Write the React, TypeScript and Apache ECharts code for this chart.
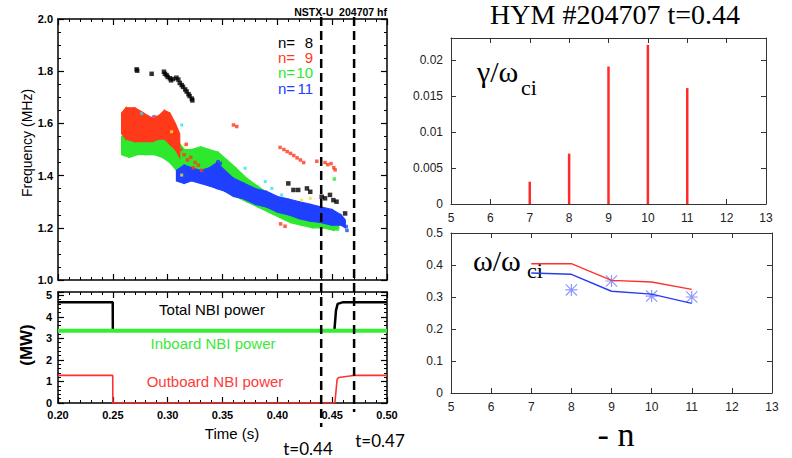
import React, { useEffect, useRef } from 'react';
import * as echarts from 'echarts';

// ---------- Spectrogram (top-left): bands [time (s), fLow (MHz), fHigh (MHz)] ----------
const n10Band: number[][] = [
  [0.258, 1.48, 1.55], [0.265, 1.47, 1.55], [0.272, 1.48, 1.58], [0.28, 1.48, 1.61],
  [0.288, 1.48, 1.63], [0.295, 1.47, 1.62], [0.302, 1.45, 1.58], [0.308, 1.42, 1.54],
  [0.315, 1.4, 1.5], [0.322, 1.4, 1.5], [0.33, 1.4, 1.51], [0.338, 1.39, 1.5],
  [0.346, 1.37, 1.49], [0.354, 1.34, 1.46], [0.362, 1.32, 1.43], [0.372, 1.3, 1.39],
  [0.382, 1.28, 1.36], [0.392, 1.26, 1.33], [0.402, 1.24, 1.31], [0.412, 1.22, 1.29],
  [0.422, 1.21, 1.28], [0.432, 1.2, 1.27], [0.442, 1.2, 1.26], [0.452, 1.19, 1.25],
  [0.456, 1.2, 1.23],
];
const n11Band: number[][] = [
  [0.308, 1.38, 1.42], [0.315, 1.37, 1.44], [0.322, 1.38, 1.43], [0.33, 1.37, 1.42],
  [0.338, 1.36, 1.43], [0.345, 1.35, 1.45], [0.352, 1.34, 1.42], [0.36, 1.32, 1.39],
  [0.37, 1.31, 1.37], [0.38, 1.29, 1.35], [0.39, 1.28, 1.34], [0.4, 1.26, 1.32],
  [0.41, 1.25, 1.31], [0.42, 1.235, 1.3], [0.43, 1.225, 1.29], [0.44, 1.22, 1.28],
  [0.45, 1.21, 1.27], [0.458, 1.21, 1.25], [0.462, 1.2, 1.23],
];
const n9Band: number[][] = [
  [0.258, 1.56, 1.64], [0.262, 1.54, 1.66], [0.27, 1.53, 1.66], [0.278, 1.53, 1.64],
  [0.286, 1.53, 1.62], [0.292, 1.54, 1.63], [0.297, 1.54, 1.65], [0.302, 1.52, 1.64],
  [0.307, 1.5, 1.6], [0.311, 1.47, 1.56],
];
const n8Points: number[][] = [
  [0.2717, 1.807], [0.2722, 1.802], [0.2854, 1.79], [0.2966, 1.798], [0.2975, 1.79],
  [0.299, 1.785], [0.3, 1.778], [0.302, 1.773], [0.303, 1.765], [0.305, 1.77],
  [0.308, 1.775], [0.3097, 1.768], [0.311, 1.755], [0.3128, 1.747], [0.314, 1.74],
  [0.316, 1.73], [0.3173, 1.722], [0.319, 1.712], [0.32, 1.705], [0.322, 1.695],
  [0.3225, 1.688], [0.41, 1.37], [0.4147, 1.345], [0.419, 1.345], [0.427, 1.351],
  [0.43, 1.338], [0.4405, 1.319], [0.4435, 1.313], [0.448, 1.326], [0.4511, 1.306],
  [0.454, 1.3], [0.4618, 1.255],
];
const n9Points: number[][] = [
  [0.312, 1.5], [0.315, 1.48], [0.317, 1.52], [0.318, 1.46], [0.321, 1.47], [0.3234, 1.43],
  [0.325, 1.45], [0.328, 1.44], [0.331, 1.42], [0.36, 1.594], [0.363, 1.588],
  [0.4025, 1.508], [0.406, 1.5], [0.409, 1.492], [0.412, 1.485], [0.415, 1.477],
  [0.418, 1.468], [0.421, 1.46], [0.424, 1.45], [0.436, 1.455], [0.4435, 1.45],
  [0.446, 1.442], [0.449, 1.446], [0.4515, 1.43], [0.4527, 1.422], [0.403, 1.215], [0.407, 1.206],
];
const n10Points: number[][] = [[0.452, 1.387], [0.449, 1.2], [0.455, 1.195]];
const n11Points: number[][] = [[0.4635, 1.19], [0.4628, 1.205], [0.346, 1.453], [0.348, 1.447]];
const cyanPoints: number[][] = [[0.2763, 1.638], [0.3128, 1.594], [0.3706, 1.428], [0.389, 1.377], [0.395, 1.351], [0.404, 1.326]];
const yellowPoints: number[][] = [[0.3036, 1.568], [0.3158, 1.517], [0.3128, 1.402], [0.422, 1.306], [0.43, 1.313]];
const magentaPoints: number[][] = [[0.287, 1.626]];

const modeLabels = ['n= ', 'n= ', 'n=', 'n='];
const modeNumbers = ['8', '9', '10', '11'];
const modeColors = ['#000000', '#ff3a1a', '#2ee82e', '#2040ff'];

// ---------- NBI power (bottom-left): [time (s), MW] ----------
const totalPower: number[][] = [
  [0.2, 4.68], [0.2499, 4.68], [0.25, 3.35], [0.452, 3.35], [0.4535, 4.3],
  [0.455, 4.6], [0.46, 4.68], [0.5, 4.68],
];
const inboardPower: number[][] = [[0.2, 3.35], [0.5, 3.35]];
const outboardPower: number[][] = [
  [0.2, 1.28], [0.2499, 1.28], [0.25, 0], [0.4525, 0], [0.4545, 1.1],
  [0.456, 1.18], [0.466, 1.25], [0.47, 1.28], [0.5, 1.28],
];
const markTimes = [0.44, 0.47];
const markLabels = ['t=0.44', 't=0.47'];

// ---------- HYM (right) ----------
const modeN = [7, 8, 9, 10, 11];
const growthRate = [0.0031, 0.007, 0.0191, 0.0221, 0.0161];
const freqRed = [0.404, 0.404, 0.352, 0.347, 0.324];
const freqBlue = [0.375, 0.371, 0.318, 0.309, 0.28];
const starN = [8, 9, 10, 11];
const starFreq = [0.322, 0.35, 0.303, 0.3];

const SANS = 'Liberation Sans';
const SERIF = 'Liberation Serif';

const asterisk =
  'path://M9,0H11V20H9Z M0,9H20V11H0Z M1.4,0L20,18.6L18.6,20L0,1.4Z M18.6,0L20,1.4L1.4,20L0,18.6Z';

function leftAxis(grid: number, pos: string, min: number, max: number, interval: number, minorSplit: number, label: any) {
  return {
    type: 'value', gridIndex: grid, position: pos, min, max, interval,
    axisLine: { show: true, onZero: false, lineStyle: { color: '#000', width: 1.5 } },
    axisTick: { show: true, inside: true, length: 6, lineStyle: { color: '#000', width: 1.2 } },
    minorTick: { show: true, splitNumber: minorSplit, length: 3, lineStyle: { color: '#000', width: 1 } },
    axisLabel: label ? { show: true, color: '#000', fontFamily: SANS, fontWeight: 'bold', fontSize: 11, ...label } : { show: false },
    splitLine: { show: false },
  };
}

function rightAxis(grid: number, pos: string, min: number, max: number, interval: number, label: any) {
  return {
    type: 'value', gridIndex: grid, position: pos, min, max, interval,
    axisLine: { show: true, onZero: false, lineStyle: { color: '#333', width: 1 } },
    axisTick: { show: true, inside: true, length: 5, lineStyle: { color: '#333', width: 1 } },
    axisLabel: label ? { show: true, color: '#222', fontFamily: SANS, fontSize: 12, margin: 8, ...label } : { show: false },
    splitLine: { show: false },
  };
}

function bandSeries(band: number[][], color: string) {
  return {
    type: 'custom', xAxisIndex: 0, yAxisIndex: 0, data: band, encode: { x: 0, y: [1, 2] }, silent: true,
    renderItem: (params: any, api: any) => {
      const i = params.dataIndex;
      if (i >= band.length - 1) return { type: 'group', children: [] };
      const a = band[i];
      const b = band[i + 1];
      const pts = [api.coord([a[0], a[1]]), api.coord([b[0], b[1]]), api.coord([b[0], b[2]]), api.coord([a[0], a[2]])];
      return { type: 'polygon', shape: { points: pts }, style: { fill: color, stroke: color, lineWidth: 1.2 } };
    },
  };
}

function speckSeries(points: number[][], color: string, size = 3.5) {
  return {
    type: 'scatter', xAxisIndex: 0, yAxisIndex: 0, data: points, symbol: 'rect',
    symbolSize: size, itemStyle: { color }, silent: true,
  };
}

const option: any = {
  animation: false,
  backgroundColor: '#fff',
  grid: [
    { left: 58, top: 19, width: 329, height: 261 },
    { left: 58, top: 292, width: 329, height: 111 },
    { left: 451, top: 38, width: 315, height: 166 },
    { left: 451, top: 233, width: 321, height: 160 },
  ],
  xAxis: [
    leftAxis(0, 'bottom', 0.2, 0.5, 0.05, 5, null),
    leftAxis(0, 'top', 0.2, 0.5, 0.05, 5, null),
    leftAxis(1, 'bottom', 0.2, 0.5, 0.05, 5, { margin: 6, formatter: (v: number) => v.toFixed(2) }),
    leftAxis(1, 'top', 0.2, 0.5, 0.05, 5, null),
    rightAxis(2, 'bottom', 5, 13, 1, {}),
    rightAxis(2, 'top', 5, 13, 1, null),
    rightAxis(3, 'bottom', 5, 13, 1, {}),
    rightAxis(3, 'top', 5, 13, 1, null),
  ],
  yAxis: [
    leftAxis(0, 'left', 1, 2, 0.2, 4, { margin: 5, formatter: (v: number) => v.toFixed(1) }),
    leftAxis(0, 'right', 1, 2, 0.2, 4, null),
    leftAxis(1, 'left', 0, 5.15, 1, 5, { margin: 6, showMaxLabel: false }),
    leftAxis(1, 'right', 0, 5.15, 1, 5, null),
    rightAxis(2, 'left', 0, 0.02306, 0.005, { showMaxLabel: false }),
    rightAxis(2, 'right', 0, 0.02306, 0.005, null),
    rightAxis(3, 'left', 0, 0.5, 0.1, {}),
    rightAxis(3, 'right', 0, 0.5, 0.1, null),
  ],
  series: [
    bandSeries(n10Band, modeColors[2]),
    bandSeries(n11Band, modeColors[3]),
    bandSeries(n9Band, modeColors[1]),
    speckSeries(n10Points, modeColors[2]),
    speckSeries(n11Points, modeColors[3]),
    speckSeries(cyanPoints, '#22e8f0', 3),
    speckSeries(yellowPoints, '#f0e020', 3),
    speckSeries(magentaPoints, '#e040e0', 3),
    speckSeries(n9Points, modeColors[1]),
    speckSeries(n8Points, modeColors[0], 4.5),
    {
      type: 'line', xAxisIndex: 2, yAxisIndex: 2, data: totalPower, showSymbol: false,
      lineStyle: { color: '#000', width: 2.5 }, silent: true,
    },
    {
      type: 'line', xAxisIndex: 2, yAxisIndex: 2, data: inboardPower, showSymbol: false,
      lineStyle: { color: '#33ee33', width: 4 }, silent: true,
    },
    {
      type: 'line', xAxisIndex: 2, yAxisIndex: 2, data: outboardPower, showSymbol: false,
      lineStyle: { color: '#ff3030', width: 1.6 }, silent: true,
    },
    {
      type: 'bar', xAxisIndex: 4, yAxisIndex: 4, barWidth: 2.5,
      data: modeN.map((n, i) => [n, growthRate[i]]),
      itemStyle: { color: '#ff2a2a' }, silent: true,
    },
    {
      type: 'line', xAxisIndex: 6, yAxisIndex: 6, showSymbol: false,
      data: modeN.map((n, i) => [n, freqRed[i]]),
      lineStyle: { color: '#ff3030', width: 1.4 }, silent: true,
    },
    {
      type: 'line', xAxisIndex: 6, yAxisIndex: 6, showSymbol: false,
      data: modeN.map((n, i) => [n, freqBlue[i]]),
      lineStyle: { color: '#2a3cf0', width: 1.4 }, silent: true,
    },
    {
      type: 'scatter', xAxisIndex: 6, yAxisIndex: 6, symbol: asterisk, symbolSize: 12,
      data: starN.map((n, i) => [n, starFreq[i]]),
      itemStyle: { color: '#6f80ff' }, silent: true,
    },
  ],
};

function buildGraphic(px: (t: number) => number): any[] {
  const g: any[] = [];
  const txt = (text: string, x: number, y: number, style: any, extra: any = {}) =>
    g.push({ type: 'text', x, y, silent: true, ...extra, style: { text, textAlign: 'center', textVerticalAlign: 'middle', fontFamily: SANS, fill: '#000', ...style } });

  txt('NSTX-U  204707 hf', 387, 12, { fontSize: 10.5, fontWeight: 'bold', textAlign: 'right' });
  modeLabels.forEach((l, i) => {
    const y = 42 + i * 15.4;
    txt(l, 278, y, { fontSize: 15, textAlign: 'left', fill: modeColors[i] });
    txt(modeNumbers[i], 313, y, { fontSize: 15, textAlign: 'right', fill: modeColors[i] });
  });
  txt('Frequency (MHz)', 27, 143, { fontSize: 14 }, { rotation: Math.PI / 2 });
  txt('(MW)', 26, 345, { fontSize: 17, fontWeight: 'bold' }, { rotation: Math.PI / 2 });
  txt('Total NBI power', 212, 309, { fontSize: 15 });
  txt('Inboard NBI power', 213, 343, { fontSize: 15, fill: '#3be83b' });
  txt('Outboard NBI power', 215, 381, { fontSize: 15, fill: '#ff3a3a' });
  txt('Time (s)', 232, 433, { fontSize: 15 });

  const lineEnds = [427, 412];
  markTimes.forEach((t, i) => {
    const x = px(t);
    g.push({
      type: 'line', silent: true, z: 50,
      shape: { x1: x, y1: 17, x2: x, y2: lineEnds[i] },
      style: { stroke: '#000', lineWidth: 2.5, lineDash: [9, 5] },
    });
  });
  txt(markLabels[0], 308, 448, { fontSize: 17, fontFamily: 'Lato' });
  txt(markLabels[1], 380, 440, { fontSize: 17, fontFamily: 'Lato' });

  txt('HYM #204707 t=0.44', 615, 14, { fontSize: 28, fontFamily: SERIF });
  txt('γ/ω', 477, 71, { fontSize: 30, fontFamily: SERIF, textAlign: 'left' });
  txt('ci', 521, 87, { fontSize: 22, fontFamily: SERIF, textAlign: 'left' });
  txt('ω/ω', 473, 260, { fontSize: 30, fontFamily: SERIF, textAlign: 'left' });
  txt('ci', 527, 270, { fontSize: 22, fontFamily: SERIF, textAlign: 'left' });
  txt('- n', 616, 434, { fontSize: 34, fontFamily: SERIF });
  return g;
}

export default function App() {
  const ref = useRef<HTMLDivElement>(null);
  useEffect(() => {
    const chart = echarts.init(ref.current!, null, { renderer: 'svg' });
    chart.setOption(option);
    const px = (t: number) => chart.convertToPixel({ xAxisIndex: 0 }, t) as unknown as number;
    chart.setOption({ graphic: buildGraphic(px) });
    return () => chart.dispose();
  }, []);
  return (
    <div
      ref={ref}
      style={{ position: 'fixed', left: 0, top: 0, width: 792, height: 458, background: '#fff' }}
    />
  );
}
